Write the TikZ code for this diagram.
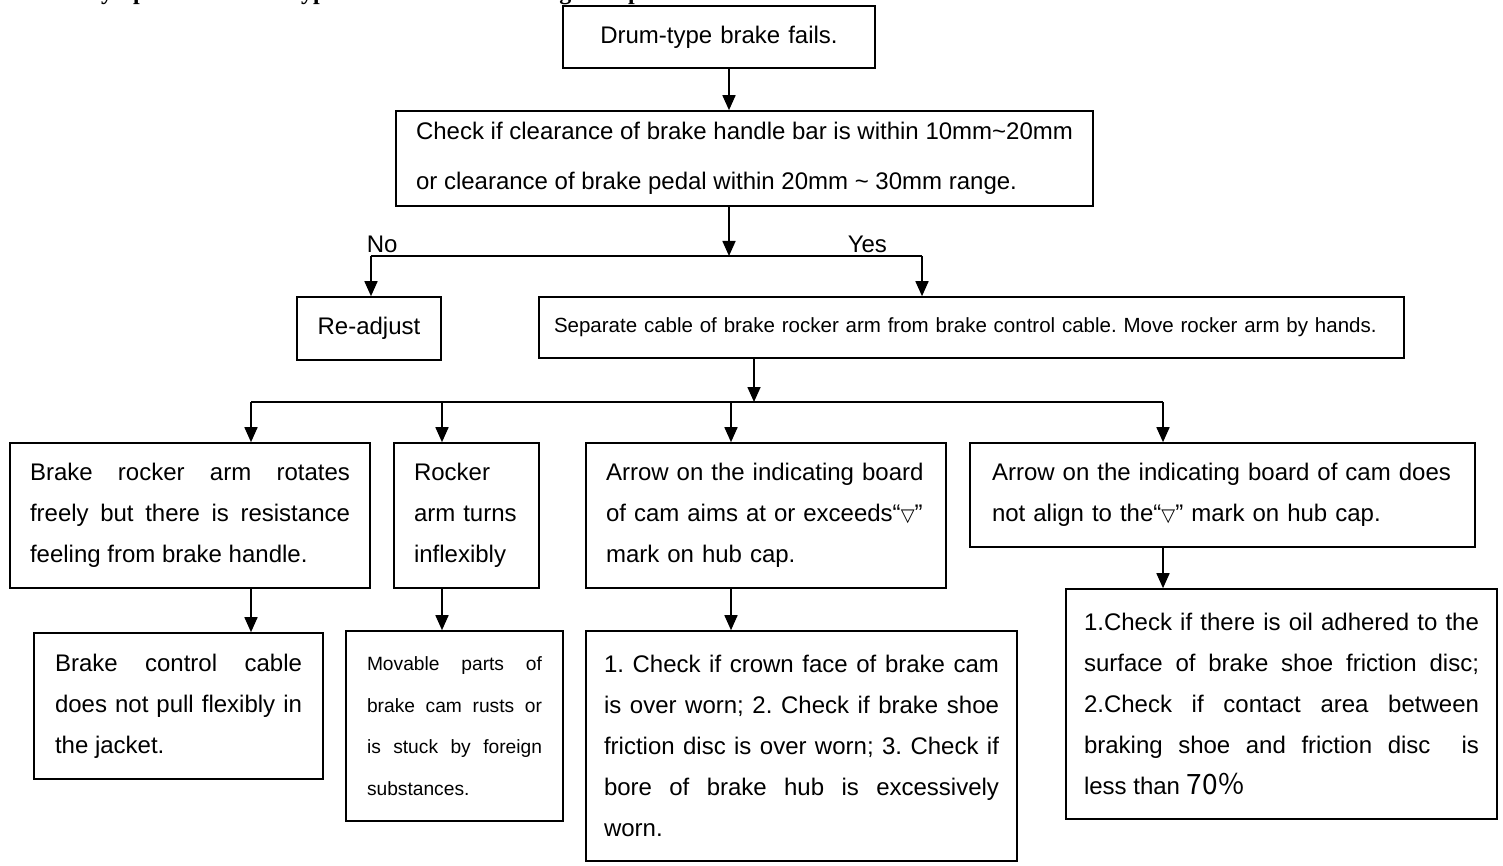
\documentclass[tikz,border=0pt]{standalone}
\usepackage{fontspec}
\setmainfont{Liberation Sans}
\newfontfamily\headfont{Liberation Serif}
\newfontfamily\symfont{DejaVu Sans}
\newfontfamily\cjk{Noto Sans CJK SC}
\usetikzlibrary{arrows.meta}
\newcommand{\tri}{{\symfont\fontsize{18}{41}\selectfont ▽}}
\frenchspacing

\tikzset{
  box/.style={draw, inner xsep=20pt, inner ysep=0pt, font=\fontsize{24}{41}\selectfont},
  smalltext/.style={font=\fontsize{19.2}{41.5}\selectfont},
  arr/.style={-{Triangle[length=15pt,width=13pt]}},
  lbl/.style={anchor=base west, inner sep=0pt, font=\fontsize{24}{28}\selectfont},
  head/.style={anchor=base west, inner sep=0pt, font=\headfont\bfseries\fontsize{24}{28}\selectfont},
}

\begin{document}
\begin{tikzpicture}[x=1pt, y=-1pt, line width=1.6pt]
  \useasboundingbox (0,0) rectangle (1503,866);
  \node[head] (title) at (87,0) {Symptoms of drum-type brake failure and diagnosis procedures};

  \node[box, text width=272pt, minimum height=62pt, align=center] (fails) at (719,37) {Drum-type brake fails.};
  \node[box, inner xsep=18pt, minimum width=697pt, minimum height=95pt, align=left, font=\fontsize{24}{50}\selectfont] (check) at (744.5,158.5)
    {Check if clearance of brake handle bar is within 10mm\textasciitilde20mm\\ or clearance of brake pedal within 20mm \textasciitilde{} 30mm range.};
  \node[box, minimum width=144pt, minimum height=63pt] (readjust) at (369,328.5) {Re-adjust};
  \node[box, inner xsep=15pt, text width=835pt, minimum height=61pt, align=left, font=\fontsize{20.5}{24}\selectfont] (separate) at (971.5,327.5)
    {Separate cable of brake rocker arm from brake control cable. Move rocker arm by hands.};

  \node[box, text width=320pt, minimum height=145pt, align=justify] (freely) at (190,515.5)
    {Brake rocker arm rotates\linebreak freely but there is resistance\linebreak feeling from brake handle.};
  \node[box, text width=105pt, minimum height=145pt, align=left] (inflex) at (466.5,515.5) {Rocker\\ arm turns\\ inflexibly};
  \node[box, text width=320pt, minimum height=145pt, align=left] (exceeds) at (766,515.5)
    {Arrow on the indicating board\\ of cam aims at or exceeds“\tri”\\ mark on hub cap.};
  \node[box, inner xsep=22pt, text width=461pt, minimum height=104pt, align=left] (notalign) at (1222.5,495)
    {Arrow on the indicating board of cam does\\ not align to the“\tri” mark on hub cap.};

  \node[box, inner xsep=21pt, text width=247pt, minimum height=146pt, align=justify] (cable) at (178.5,706)
    {Brake control cable\linebreak does not pull flexibly in\linebreak the jacket.};
  \node[box, smalltext, inner xsep=21pt, text width=175pt, minimum height=190pt, align=justify] (rusts) at (454.5,726)
    {Movable parts of\linebreak brake cam rusts or\linebreak is stuck by foreign\linebreak substances.};
  \node[box, inner xsep=18pt, text width=395pt, minimum height=230pt, align=justify] (worn) at (801.5,746)
    {1. Check if crown face of brake cam\linebreak is over worn; 2. Check if brake shoe\linebreak friction disc is over worn; 3. Check if\linebreak bore of brake hub is excessively\linebreak worn.};
  \node[box, inner xsep=18pt, text width=395pt, minimum height=230pt, align=justify] (oil) at (1281.5,704)
    {1.Check if there is oil adhered to the\linebreak surface of brake shoe friction disc;\linebreak 2.Check if contact area between\linebreak braking shoe and friction disc\ \ is\linebreak less than {\cjk\fontsize{28}{41}\selectfont 70％}};

  \coordinate (split) at (729,256);
  \coordinate (nobr) at (371,256);
  \coordinate (yesbr) at (922,256);
  \draw[arr] (fails.south -| split) -- (check.north -| split);
  \draw[arr] (check.south -| split) -- (split);
  \draw (nobr) -- (yesbr);
  \draw[arr] (nobr) -- (readjust.north -| nobr);
  \draw[arr] (yesbr) -- (separate.north -| yesbr);
  \node[lbl] (no) at (366,253) {No};
  \node[lbl] (yes) at (847,253) {Yes};

  \coordinate (fork) at (754,402);
  \coordinate (fa) at (251,402);
  \coordinate (fb) at (442,402);
  \coordinate (fc) at (731,402);
  \coordinate (fd) at (1163,402);
  \draw[arr] (separate.south -| fork) -- (fork);
  \draw (fa) -- (fd);
  \draw[arr] (fa) -- (freely.north -| fa);
  \draw[arr] (fb) -- (inflex.north -| fb);
  \draw[arr] (fc) -- (exceeds.north -| fc);
  \draw[arr] (fd) -- (notalign.north -| fd);
  \draw[arr] (freely.south -| fa) -- (cable.north -| fa);
  \draw[arr] (inflex.south -| fb) -- (rusts.north -| fb);
  \draw[arr] (exceeds.south -| fc) -- (worn.north -| fc);
  \draw[arr] (notalign.south -| fd) -- (oil.north -| fd);
\end{tikzpicture}
\end{document}
